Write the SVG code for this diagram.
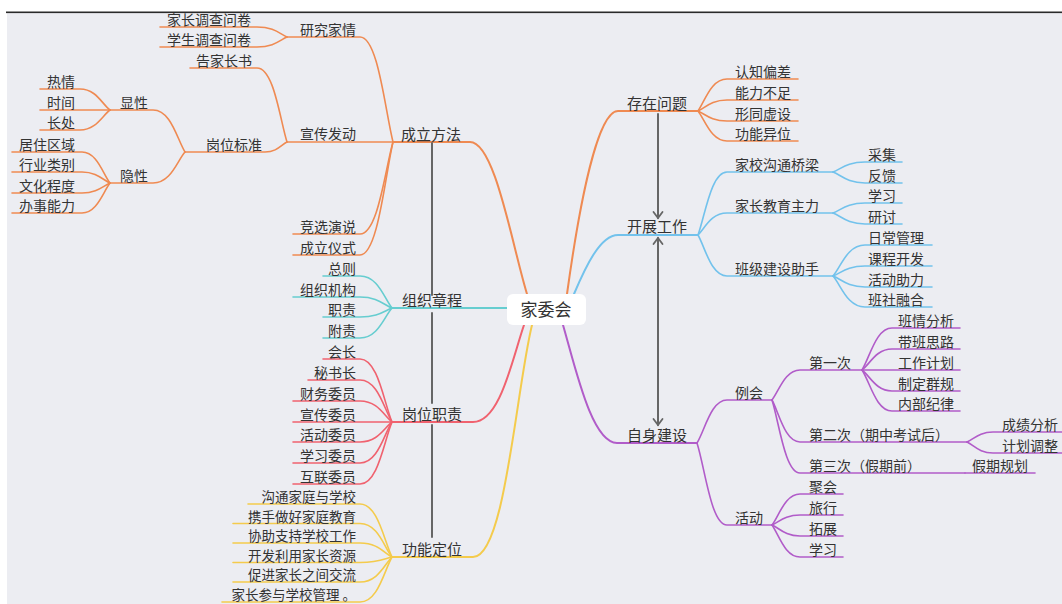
<svg xmlns="http://www.w3.org/2000/svg" width="1062" height="604" viewBox="0 0 1062 604">
<defs>
<style>
text{font-family:"Noto Sans CJK SC","Noto Sans",sans-serif;fill:#333333;font-size:14px}
.m{font-size:15px}
.c{font-size:17px}
.s{font-size:13.5px}
.e{text-anchor:end}
path{fill:none;stroke-linecap:round}
.o{stroke:#ef8a52;stroke-width:1.6}
.b{stroke:#72c2ec;stroke-width:1.6}
.t{stroke:#66cdd0;stroke-width:1.6}
.r{stroke:#f0626f;stroke-width:1.6}
.y{stroke:#f4cb4c;stroke-width:1.6}
.p{stroke:#b15cc9;stroke-width:1.6}
.w{stroke-width:2}
.g{stroke:#666;stroke-width:2;fill:none}
</style>
<marker id="ah" markerUnits="userSpaceOnUse" markerWidth="12" markerHeight="12" refX="8" refY="6" orient="auto-start-reverse">
<path d="M2,1.5 L8,6 L2,10.5" stroke="#666" stroke-width="1.8" fill="none"/>
</marker>
</defs>
<rect x="0" y="0" width="1062" height="604" fill="#ffffff"/>
<rect x="7" y="13" width="1055" height="591" fill="#ecedf2"/>
<rect x="6" y="11.5" width="1056" height="1.6" fill="#2a2a2a"/>

<g id="connectors">
<path class="o w" d="M393 142 H470 C495 142 512 245 527 294"/>
<path class="o" d="M287 37 H360 C378 37 385 110 393 142"/>
<path class="o" d="M287 142 H393"/>
<path class="o" d="M293 234 H360 C378 234 385 170 393 142"/>
<path class="o" d="M293 255 H360 C378 255 385 176 393 142"/>
<path class="o" d="M160 27 H257 C274 27 280 34 287 37"/>
<path class="o" d="M160 47 H257 C274 47 280 40 287 37"/>
<path class="o" d="M190 68 H257 C274 68 280 120 287 142"/>
<path class="o" d="M185 152 H265 C277 152 281 145 287 142"/>
<path class="o" d="M110 110 H153 C171 110 177 139 185 152"/>
<path class="o" d="M110 183 H153 C171 183 177 161 185 152"/>
<path class="o" d="M40 89 H80 C96 89 102 104 110 110"/>
<path class="o" d="M40 110 H110"/>
<path class="o" d="M40 130 H80 C96 130 102 116 110 110"/>
<path class="o" d="M12 152 H82 C97 152 103 174 110 183"/>
<path class="o" d="M12 172 H82 C97 172 103 180 110 183"/>
<path class="o" d="M12 193 H82 C97 193 103 186 110 183"/>
<path class="o" d="M12 213 H82 C97 213 103 192 110 183"/>
<path class="t w" d="M392 308 H507"/>
<path class="t" d="M323 276 H360 C378 276 384 298 392 308"/>
<path class="t" d="M293 297 H360 C378 297 384 305 392 308"/>
<path class="t" d="M323 317 H360 C378 317 384 311 392 308"/>
<path class="t" d="M323 338 H360 C378 338 384 317 392 308"/>
<path class="r w" d="M392 422 H473 C500 422 512 360 524 325"/>
<path class="r" d="M323 359 H360 C378 359 384 403 392 422"/>
<path class="r" d="M308 380 H360 C378 380 384 409 392 422"/>
<path class="r" d="M293 401 H360 C378 401 384 416 392 422"/>
<path class="r" d="M293 422 H392"/>
<path class="r" d="M293 442 H360 C378 442 384 428 392 422"/>
<path class="r" d="M293 463 H360 C378 463 384 434 392 422"/>
<path class="r" d="M293 484 H360 C378 484 384 441 392 422"/>
<path class="y w" d="M392 557 H473 C505 557 516 390 532 325"/>
<path class="y" d="M248 504 H360 C378 504 384 541 392 557"/>
<path class="y" d="M233 523.5 H360 C378 523.5 384 547 392 557"/>
<path class="y" d="M233 543 H360 C378 543 384 553 392 557"/>
<path class="y" d="M233 562.5 H360 C378 562.5 384 559 392 557"/>
<path class="y" d="M233 582 H360 C378 582 384 565 392 557"/>
<path class="y" d="M222 602 H360 C378 602 384 571 392 557"/>
<path class="o w" d="M698 111 H618 C598 111 580 200 567 294"/>
<path class="o" d="M698 111 C705 101 711 79 727 79 H798"/>
<path class="o" d="M698 111 C705 108 711 100 727 100 H798"/>
<path class="o" d="M698 111 C705 114 711 121 727 121 H798"/>
<path class="o" d="M698 111 C705 120 711 141 727 141 H798"/>
<path class="b w" d="M698 235 H618 C600 235 585 268 574 294"/>
<path class="b" d="M698 235 C705 216 711 172 727 172 H833"/>
<path class="b" d="M698 235 C705 228 711 213 727 213 H833"/>
<path class="b" d="M698 235 C705 247 711 276 727 276 H833"/>
<path class="b" d="M833 172 C841 169 847 162 865 162 H902"/>
<path class="b" d="M833 172 C841 175 847 183 865 183 H902"/>
<path class="b" d="M833 213 C841 210 847 203 865 203 H902"/>
<path class="b" d="M833 213 C841 216 847 224 865 224 H902"/>
<path class="b" d="M833 276 C841 267 847 245 865 245 H932"/>
<path class="b" d="M833 276 C841 273 847 266 865 266 H932"/>
<path class="b" d="M833 276 C841 279 847 287 865 287 H932"/>
<path class="b" d="M833 276 C841 285 847 307 865 307 H932"/>
<path class="p w" d="M697 443 H617 C592 443 576 370 563 325"/>
<path class="p" d="M697 443 C705 430 711 400 727 400 H772"/>
<path class="p" d="M697 443 C705 468 711 525 727 525 H772"/>
<path class="p" d="M772 400 C779 391 785 370 800 370 H862"/>
<path class="p" d="M772 400 C779 413 785 442 800 442 H967"/>
<path class="p" d="M772 400 C779 422 785 473 800 473 H965"/>
<path class="p" d="M965 473 H1035"/>
<path class="p" d="M862 370 C870 357 876 328 892 328 H960"/>
<path class="p" d="M862 370 C870 364 876 349 892 349 H960"/>
<path class="p" d="M862 370 H960"/>
<path class="p" d="M862 370 C870 376 876 391 892 391 H960"/>
<path class="p" d="M862 370 C870 382 876 411 892 411 H960"/>
<path class="p" d="M967 442 C974 439 979 432 993 432 H1062"/>
<path class="p" d="M967 442 C974 445 979 453 993 453 H1062"/>
<path class="p" d="M772 525 C779 516 785 494 800 494 H843"/>
<path class="p" d="M772 525 C779 522 785 515 800 515 H843"/>
<path class="p" d="M772 525 C779 528 785 536 800 536 H843"/>
<path class="p" d="M772 525 C779 535 785 557 800 557 H843"/>
<path class="g" d="M432 143 V295 M432 313 V403 M432 425 V537"/>
<path class="g" d="M658 114 V218" marker-end="url(#ah)"/>
<path class="g" d="M658 238 V425" marker-start="url(#ah)" marker-end="url(#ah)"/>
</g>

<g id="n-center">
<rect x="507" y="294" width="79" height="31" rx="6" fill="#ffffff"/>
<text class="c" x="546" y="316" text-anchor="middle">家委会</text>
</g>

<g id="n-chengli"><text class="m" x="401" y="140">成立方法</text></g>
<g id="n-yanjiu"><text class="e" x="356" y="35">研究家情</text></g>
<g id="n-jiazhangwj"><text class="e" x="251" y="25">家长调查问卷</text></g>
<g id="n-xueshengwj"><text class="e" x="251" y="45">学生调查问卷</text></g>
<g id="n-xuanchuan"><text class="e" x="356" y="139">宣传发动</text></g>
<g id="n-gaojiazhang"><text class="e" x="252" y="66">告家长书</text></g>
<g id="n-gangweibz"><text class="e" x="262" y="150">岗位标准</text></g>
<g id="n-xianxing"><text class="e" x="148" y="108">显性</text></g>
<g id="n-reqing"><text class="e" x="75" y="87">热情</text></g>
<g id="n-shijian"><text class="e" x="75" y="108">时间</text></g>
<g id="n-changchu"><text class="e" x="75" y="128">长处</text></g>
<g id="n-yinxing"><text class="e" x="148" y="181">隐性</text></g>
<g id="n-juzhu"><text class="e" x="75" y="150">居住区域</text></g>
<g id="n-hangye"><text class="e" x="75" y="170">行业类别</text></g>
<g id="n-wenhua"><text class="e" x="75" y="191">文化程度</text></g>
<g id="n-banshi"><text class="e" x="75" y="211">办事能力</text></g>
<g id="n-jingxuan"><text class="e" x="356" y="232">竞选演说</text></g>
<g id="n-yishi"><text class="e" x="356" y="253">成立仪式</text></g>

<g id="n-zhangcheng"><text class="m" x="402" y="306">组织章程</text></g>
<g id="n-zongze"><text class="e" x="356" y="274">总则</text></g>
<g id="n-jigou"><text class="e" x="356" y="295">组织机构</text></g>
<g id="n-zhize"><text class="e" x="356" y="315">职责</text></g>
<g id="n-fuze"><text class="e" x="356" y="336">附责</text></g>

<g id="n-gangweizz"><text class="m" x="402" y="420">岗位职责</text></g>
<g id="n-huizhang"><text class="e" x="356" y="357">会长</text></g>
<g id="n-mishu"><text class="e" x="356" y="378">秘书长</text></g>
<g id="n-caiwu"><text class="e" x="356" y="399">财务委员</text></g>
<g id="n-xuanchuanwy"><text class="e" x="356" y="420">宣传委员</text></g>
<g id="n-huodongwy"><text class="e" x="356" y="440">活动委员</text></g>
<g id="n-xuexiwy"><text class="e" x="356" y="461">学习委员</text></g>
<g id="n-hulian"><text class="e" x="356" y="482">互联委员</text></g>

<g id="n-gongneng"><text class="m" x="402" y="555">功能定位</text></g>
<g id="n-gn1"><text class="e s" x="356" y="502">沟通家庭与学校</text></g>
<g id="n-gn2"><text class="e s" x="356" y="521.5">携手做好家庭教育</text></g>
<g id="n-gn3"><text class="e s" x="356" y="541">协助支持学校工作</text></g>
<g id="n-gn4"><text class="e s" x="356" y="560.5">开发利用家长资源</text></g>
<g id="n-gn5"><text class="e s" x="356" y="580">促进家长之间交流</text></g>
<g id="n-gn6"><text class="e s" x="356" y="600">家长参与学校管理 。</text></g>

<g id="n-cunzai"><text class="m" x="627" y="109">存在问题</text></g>
<g id="n-cz1"><text x="735" y="77">认知偏差</text></g>
<g id="n-cz2"><text x="735" y="98">能力不足</text></g>
<g id="n-cz3"><text x="735" y="119">形同虚设</text></g>
<g id="n-cz4"><text x="735" y="139">功能异位</text></g>

<g id="n-kaizhan"><text class="m" x="627" y="232">开展工作</text></g>
<g id="n-qiaoliang"><text x="735" y="170">家校沟通桥梁</text></g>
<g id="n-caiji"><text x="868" y="160">采集</text></g>
<g id="n-fankui"><text x="868" y="181">反馈</text></g>
<g id="n-zhuli"><text x="735" y="211">家长教育主力</text></g>
<g id="n-xuexi1"><text x="868" y="201">学习</text></g>
<g id="n-yantao"><text x="868" y="222">研讨</text></g>
<g id="n-zhushou"><text x="735" y="274">班级建设助手</text></g>
<g id="n-richang"><text x="868" y="243">日常管理</text></g>
<g id="n-kecheng"><text x="868" y="264">课程开发</text></g>
<g id="n-zhuli2"><text x="868" y="285">活动助力</text></g>
<g id="n-banshe"><text x="868" y="305">班社融合</text></g>

<g id="n-zishen"><text class="m" x="627" y="441">自身建设</text></g>
<g id="n-lihui"><text x="735" y="398">例会</text></g>
<g id="n-di1"><text x="809" y="368">第一次</text></g>
<g id="n-bq"><text x="898" y="326">班情分析</text></g>
<g id="n-db"><text x="898" y="347">带班思路</text></g>
<g id="n-gz"><text x="898" y="368">工作计划</text></g>
<g id="n-zd"><text x="898" y="389">制定群规</text></g>
<g id="n-nb"><text x="898" y="409">内部纪律</text></g>
<g id="n-di2"><text x="809" y="440">第二次（期中考试后）</text></g>
<g id="n-cj"><text x="1002" y="430">成绩分析</text></g>
<g id="n-jh"><text x="1002" y="451">计划调整</text></g>
<g id="n-di3"><text x="809" y="471">第三次（假期前）</text></g>
<g id="n-jq"><text x="972" y="471">假期规划</text></g>
<g id="n-huodong"><text x="735" y="523">活动</text></g>
<g id="n-juhui"><text x="809" y="492">聚会</text></g>
<g id="n-lvxing"><text x="809" y="513">旅行</text></g>
<g id="n-tuozhan"><text x="809" y="534">拓展</text></g>
<g id="n-xuexi2"><text x="809" y="555">学习</text></g>
</svg>
